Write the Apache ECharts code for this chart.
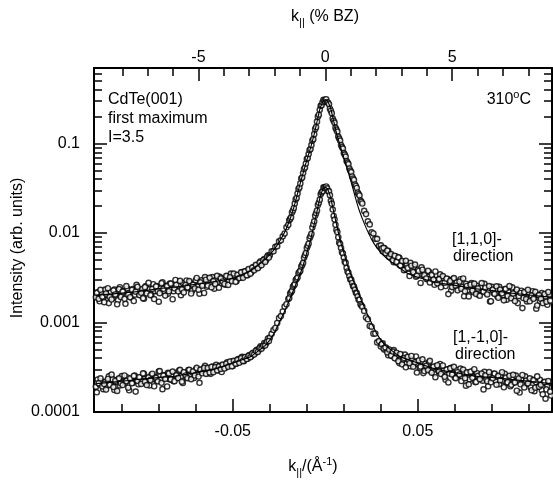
<!DOCTYPE html>
<html>
<head>
<meta charset="utf-8">
<script src="https://cdn.jsdelivr.net/npm/echarts@6/dist/echarts.min.js"></script>
<style>
html, body { margin: 0; padding: 0; background: #fff; }
#chart { width: 553px; height: 489px; }
</style>
</head>
<body>
<div id="chart"></div>
<script>
// measurement grid, k_|| in 1/Angstrom
const kValues = [
  -0.124, -0.123, -0.122, -0.121, -0.120, -0.119, -0.118, -0.117, -0.116, -0.115,
  -0.114, -0.113, -0.112, -0.111, -0.110, -0.109, -0.108, -0.107, -0.106, -0.105,
  -0.104, -0.103, -0.102, -0.101, -0.100, -0.099, -0.098, -0.097, -0.096, -0.095,
  -0.094, -0.093, -0.092, -0.091, -0.090, -0.089, -0.088, -0.087, -0.086, -0.085,
  -0.084, -0.083, -0.082, -0.081, -0.080, -0.079, -0.078, -0.077, -0.076, -0.075,
  -0.074, -0.073, -0.072, -0.071, -0.070, -0.069, -0.068, -0.067, -0.066, -0.065,
  -0.064, -0.063, -0.062, -0.061, -0.060, -0.059, -0.058, -0.057, -0.056, -0.055,
  -0.054, -0.053, -0.052, -0.051, -0.050, -0.049, -0.048, -0.047, -0.046, -0.045,
  -0.044, -0.043, -0.042, -0.041, -0.040, -0.039, -0.038, -0.037, -0.036, -0.035,
  -0.034, -0.033, -0.032, -0.031, -0.030, -0.029, -0.028, -0.027, -0.026, -0.025,
  -0.024, -0.023, -0.022, -0.021,
  -0.0200, -0.0195, -0.0190, -0.0185, -0.0180, -0.0175, -0.0170, -0.0165, -0.0160, -0.0155,
  -0.0150, -0.0145, -0.0140, -0.0135, -0.0130, -0.0125, -0.0120, -0.0115, -0.0110, -0.0105,
  -0.0100, -0.0095, -0.0090, -0.0085, -0.0080, -0.0075, -0.0070, -0.0065, -0.0060, -0.0055,
  -0.0050, -0.0045, -0.0040, -0.0035, -0.0030, -0.0025, -0.0020, -0.0015, -0.0010, -0.0005,
  0,
  0.0005, 0.0010, 0.0015, 0.0020, 0.0025, 0.0030, 0.0035, 0.0040, 0.0045, 0.0050,
  0.0055, 0.0060, 0.0065, 0.0070, 0.0075, 0.0080, 0.0085, 0.0090, 0.0095, 0.0100,
  0.0105, 0.0110, 0.0115, 0.0120, 0.0125, 0.0130, 0.0135, 0.0140, 0.0145, 0.0150,
  0.0155, 0.0160, 0.0165, 0.0170, 0.0175, 0.0180, 0.0185, 0.0190, 0.0195, 0.0200,
  0.021, 0.022, 0.023, 0.024, 0.025, 0.026, 0.027, 0.028, 0.029, 0.030,
  0.031, 0.032, 0.033, 0.034, 0.035, 0.036, 0.037, 0.038, 0.039, 0.040,
  0.041, 0.042, 0.043, 0.044, 0.045, 0.046, 0.047, 0.048, 0.049, 0.050,
  0.051, 0.052, 0.053, 0.054, 0.055, 0.056, 0.057, 0.058, 0.059, 0.060,
  0.061, 0.062, 0.063, 0.064, 0.065, 0.066, 0.067, 0.068, 0.069, 0.070,
  0.071, 0.072, 0.073, 0.074, 0.075, 0.076, 0.077, 0.078, 0.079, 0.080,
  0.081, 0.082, 0.083, 0.084, 0.085, 0.086, 0.087, 0.088, 0.089, 0.090,
  0.091, 0.092, 0.093, 0.094, 0.095, 0.096, 0.097, 0.098, 0.099, 0.100,
  0.101, 0.102, 0.103, 0.104, 0.105, 0.106, 0.107, 0.108, 0.109, 0.110,
  0.111, 0.112, 0.113, 0.114, 0.115, 0.116, 0.117, 0.118, 0.119, 0.120,
  0.121, 0.122
];

// [1,1,0] direction
const upperValues = [
  0.00192, 0.00218, 0.00173, 0.00210, 0.00190, 0.00233, 0.00202, 0.00165, 0.00218, 0.00187,
  0.00233, 0.00210, 0.00178, 0.00248, 0.00202, 0.00224, 0.00162, 0.00239, 0.00213, 0.00192,
  0.00236, 0.00205, 0.00264, 0.00224, 0.00202, 0.00236, 0.00185, 0.00255, 0.00224, 0.00236,
  0.00205, 0.00268, 0.00224, 0.00255, 0.00171, 0.00240, 0.00282, 0.00224, 0.00257, 0.00210,
  0.00273, 0.00242, 0.00224, 0.00299, 0.00239, 0.00259, 0.00202, 0.00276, 0.00251, 0.00295,
  0.00242, 0.00276, 0.00227, 0.00266, 0.00297, 0.00256, 0.00210, 0.00296, 0.00268, 0.00322,
  0.00251, 0.00288, 0.00268, 0.00322, 0.00239, 0.00303, 0.00282, 0.00324, 0.00274, 0.00306,
  0.00264, 0.00328, 0.00299, 0.00352, 0.00297, 0.00334, 0.00289, 0.00336, 0.00317, 0.00367,
  0.00338, 0.00374, 0.00338, 0.00384, 0.00365, 0.00416, 0.00399, 0.00436, 0.00419, 0.00484,
  0.00465, 0.00512, 0.00496, 0.00564, 0.00564, 0.00625, 0.00625, 0.00702, 0.00711, 0.00808,
  0.00829, 0.00919, 0.0099, 0.0116,
  0.01235, 0.0139, 0.0144, 0.0150, 0.0170, 0.0179, 0.0191, 0.0214, 0.0238, 0.0247,
  0.0277, 0.0311, 0.0323, 0.0358, 0.0407, 0.0418, 0.0469, 0.0520, 0.0540, 0.0599,
  0.0672, 0.0689, 0.0764, 0.0846, 0.0868, 0.0962, 0.1080, 0.1122, 0.1276, 0.1451,
  0.1527, 0.1759, 0.2000, 0.2105, 0.2394, 0.2652, 0.2686, 0.2902, 0.3094, 0.2993,
  0.3094,
  0.3134, 0.2902, 0.2865, 0.2756, 0.2456, 0.2332, 0.2188, 0.1900, 0.1804, 0.1714,
  0.1508, 0.1432, 0.1361, 0.1197, 0.1137, 0.1080, 0.0962, 0.0914, 0.0880, 0.0784,
  0.0754, 0.0716, 0.0638, 0.0614, 0.0591, 0.0527, 0.0500, 0.0481, 0.0429, 0.0407,
  0.0392, 0.0349, 0.0336, 0.0319, 0.0284, 0.0273, 0.0263, 0.0231, 0.0223, 0.0214,
  0.0177, 0.0163, 0.0135, 0.0125, 0.0102, 0.0099, 0.00862, 0.00862, 0.00720, 0.00729,
  0.00625, 0.00675, 0.00597, 0.00633, 0.00536, 0.00557, 0.00473, 0.00550, 0.00481, 0.00529,
  0.00431, 0.00477, 0.00389, 0.00442, 0.00399, 0.00465, 0.00389, 0.00419, 0.00325, 0.00389,
  0.00344, 0.00414, 0.00340, 0.00360, 0.00305, 0.00370, 0.00311, 0.00329, 0.00264, 0.00338,
  0.00301, 0.00346, 0.00278, 0.00313, 0.00256, 0.00309, 0.00282, 0.00227, 0.00305, 0.00258,
  0.00282, 0.00239, 0.00305, 0.00251, 0.00197, 0.00271, 0.00230, 0.00251, 0.00276, 0.00218,
  0.00235, 0.00258, 0.00203, 0.00248, 0.00223, 0.00271, 0.00214, 0.00230, 0.00172, 0.00251,
  0.00214, 0.00236, 0.00196, 0.00251, 0.00214, 0.00202, 0.00235, 0.00180, 0.00219, 0.00202,
  0.00247, 0.00190, 0.00219, 0.00165, 0.00201, 0.00227, 0.00188, 0.00213, 0.00172, 0.00216,
  0.00188, 0.00224, 0.00191, 0.00143, 0.00203, 0.00173, 0.00213, 0.00182, 0.00196, 0.00158,
  0.00204, 0.00173
];

// [1,-1,0] direction
const lowerValues = [
  0.000192, 0.000231, 0.000204, 0.000221, 0.000180, 0.000217, 0.000197, 0.000250, 0.000204, 0.000233,
  0.000176, 0.000217, 0.000230, 0.000198, 0.000252, 0.000217, 0.000213, 0.000243, 0.000175, 0.000233,
  0.000212, 0.000255, 0.000224, 0.000204, 0.000245, 0.000221, 0.000267, 0.000213, 0.000236, 0.000198,
  0.000258, 0.000233, 0.000247, 0.000224, 0.000283, 0.000231, 0.000180, 0.000259, 0.000240, 0.000275,
  0.000231, 0.000257, 0.000221, 0.000272, 0.000240, 0.000290, 0.000250, 0.000211, 0.000275, 0.000244,
  0.000295, 0.000261, 0.000278, 0.000240, 0.000298, 0.000264, 0.000212, 0.000298, 0.000286, 0.000328,
  0.000269, 0.000300, 0.000267, 0.000322, 0.000293, 0.000337, 0.000292, 0.000329, 0.000280, 0.000332,
  0.000313, 0.000360, 0.000332, 0.000365, 0.000326, 0.000367, 0.000346, 0.000391, 0.000368, 0.000414,
  0.000370, 0.000407, 0.000394, 0.000434, 0.000419, 0.000459, 0.000455, 0.000497, 0.000491, 0.000541,
  0.000535, 0.000590, 0.000587, 0.000662, 0.000678, 0.000747, 0.000824, 0.000869, 0.000988, 0.00112,
  0.00118, 0.00133, 0.00151, 0.00160,
  0.00183, 0.00188, 0.00211, 0.00218, 0.00226, 0.00251, 0.00260, 0.00268, 0.00298, 0.00308,
  0.00319, 0.00355, 0.00366, 0.00378, 0.00422, 0.00441, 0.00465, 0.00530, 0.00564, 0.00597,
  0.00682, 0.00721, 0.00763, 0.00873, 0.00920, 0.00980, 0.01153, 0.01251, 0.01354, 0.01558,
  0.01665, 0.01782, 0.0206, 0.02177, 0.02363, 0.02721, 0.02850, 0.02939, 0.03240, 0.03230,
  0.03174,
  0.03315, 0.03158, 0.02939, 0.02924, 0.02652, 0.02292, 0.02133, 0.01832, 0.01552, 0.01417,
  0.01238, 0.01083, 0.01027, 0.00898, 0.00784, 0.00754, 0.00681, 0.00611, 0.00591, 0.00532,
  0.00478, 0.00464, 0.00409, 0.00372, 0.00360, 0.00329, 0.00303, 0.00302, 0.00277, 0.00255,
  0.00253, 0.00233, 0.00215, 0.00213, 0.00196, 0.00180, 0.00180, 0.00160, 0.00155, 0.00150,
  0.00135, 0.00114, 0.00109, 0.000915, 0.000898, 0.000751, 0.000754, 0.000600, 0.000620, 0.000539,
  0.000586, 0.000496, 0.000515, 0.000431, 0.000474, 0.000423, 0.000492, 0.000398, 0.000436, 0.000352,
  0.000433, 0.000382, 0.000438, 0.000350, 0.000382, 0.000324, 0.000391, 0.000346, 0.000418, 0.000343,
  0.000313, 0.000367, 0.000272, 0.000346, 0.000307, 0.000360, 0.000289, 0.000315, 0.000268, 0.000325,
  0.000290, 0.000344, 0.000270, 0.000290, 0.000229, 0.000301, 0.000269, 0.000312, 0.000270, 0.000243,
  0.000295, 0.000257, 0.000305, 0.000246, 0.000270, 0.000197, 0.000272, 0.000232, 0.000283, 0.000247,
  0.000216, 0.000271, 0.000237, 0.000256, 0.000224, 0.000281, 0.000233, 0.000194, 0.000257, 0.000236,
  0.000268, 0.000223, 0.000246, 0.000205, 0.000257, 0.000224, 0.000268, 0.000212, 0.000233, 0.000194,
  0.000244, 0.000213, 0.000255, 0.000223, 0.000165, 0.000234, 0.000205, 0.000250, 0.000207, 0.000221,
  0.000188, 0.000229, 0.000171, 0.000214, 0.000192, 0.000229, 0.000175, 0.000214, 0.000141, 0.000195,
  0.000216, 0.000153
];

// interleaved points of the second pass in the wings
const kExtra = [
  -0.1235, -0.1225, -0.1215, -0.1205, -0.1195, -0.1185, -0.1175, -0.1165, -0.1155, -0.1145,
  -0.1135, -0.1125, -0.1115, -0.1105, -0.1095, -0.1085, -0.1075, -0.1065, -0.1055, -0.1045,
  -0.1035, -0.1025, -0.1015, -0.1005, -0.0995, -0.0985, -0.0975, -0.0965, -0.0955, -0.0945,
  -0.0935, -0.0925, -0.0915, -0.0905, -0.0895, -0.0885, -0.0875, -0.0865, -0.0855, -0.0845,
  -0.0835, -0.0825, -0.0815, -0.0805, -0.0795, -0.0785, -0.0775, -0.0765, -0.0755, -0.0745,
  -0.0735, -0.0725, -0.0715, -0.0705, -0.0695, -0.0685, -0.0675, -0.0665, -0.0655, -0.0645,
  -0.0635, -0.0625, -0.0615, -0.0605, -0.0595, -0.0585, -0.0575, -0.0565, -0.0555, -0.0545,
  -0.0535, -0.0525, -0.0515, -0.0505, -0.0495, -0.0485, -0.0475, -0.0465, -0.0455, -0.0445,
  -0.0435, -0.0425, -0.0415, -0.0405, -0.0395, -0.0385, -0.0375, -0.0365, -0.0355, -0.0345,
  -0.0335, -0.0325, -0.0315, -0.0305,
  0.0305, 0.0315, 0.0325, 0.0335, 0.0345, 0.0355, 0.0365, 0.0375, 0.0385, 0.0395,
  0.0405, 0.0415, 0.0425, 0.0435, 0.0445, 0.0455, 0.0465, 0.0475, 0.0485, 0.0495,
  0.0505, 0.0515, 0.0525, 0.0535, 0.0545, 0.0555, 0.0565, 0.0575, 0.0585, 0.0595,
  0.0605, 0.0615, 0.0625, 0.0635, 0.0645, 0.0655, 0.0665, 0.0675, 0.0685, 0.0695,
  0.0705, 0.0715, 0.0725, 0.0735, 0.0745, 0.0755, 0.0765, 0.0775, 0.0785, 0.0795,
  0.0805, 0.0815, 0.0825, 0.0835, 0.0845, 0.0855, 0.0865, 0.0875, 0.0885, 0.0895,
  0.0905, 0.0915, 0.0925, 0.0935, 0.0945, 0.0955, 0.0965, 0.0975, 0.0985, 0.0995,
  0.1005, 0.1015, 0.1025, 0.1035, 0.1045, 0.1055, 0.1065, 0.1075, 0.1085, 0.1095,
  0.1105, 0.1115, 0.1125, 0.1135, 0.1145, 0.1155, 0.1165, 0.1175, 0.1185, 0.1195,
  0.1205, 0.1215
];
const upperExtra = [
  0.00215, 0.00184, 0.00232, 0.00195, 0.00169, 0.00211, 0.00242, 0.00193, 0.00181, 0.00228,
  0.00206, 0.00160, 0.00236, 0.00193, 0.00222, 0.00184, 0.00255, 0.00206, 0.00192, 0.00232,
  0.00174, 0.00221, 0.00251, 0.00203, 0.00215, 0.00187, 0.00248, 0.00212, 0.00278, 0.00202,
  0.00238, 0.00183, 0.00253, 0.00224, 0.00213, 0.00275, 0.00238, 0.00200, 0.00255, 0.00224,
  0.00272, 0.00182, 0.00241, 0.00264, 0.00223, 0.00292, 0.00235, 0.00217, 0.00264, 0.00248,
  0.00291, 0.00211, 0.00263, 0.00241, 0.00315, 0.00233, 0.00281, 0.00258, 0.00214, 0.00301,
  0.00259, 0.00316, 0.00248, 0.00290, 0.00270, 0.00332, 0.00245, 0.00312, 0.00288, 0.00270,
  0.00333, 0.00263, 0.00321, 0.00290, 0.00353, 0.00285, 0.00341, 0.00314, 0.00364, 0.00316,
  0.00373, 0.00338, 0.00395, 0.00352, 0.00410, 0.00383, 0.00442, 0.00405, 0.00468, 0.00438,
  0.00497, 0.00476, 0.00541, 0.00532,
  0.00672, 0.00684, 0.00596, 0.00635, 0.00541, 0.00581, 0.00497, 0.00558, 0.00476, 0.00535,
  0.00434, 0.00488, 0.00385, 0.00489, 0.00408, 0.00331, 0.00432, 0.00366, 0.00445, 0.00334,
  0.00377, 0.00277, 0.00389, 0.00338, 0.00311, 0.00379, 0.00281, 0.00341, 0.00301, 0.00372,
  0.00274, 0.00306, 0.00248, 0.00331, 0.00279, 0.00309, 0.00208, 0.00292, 0.00249, 0.00314,
  0.00258, 0.00229, 0.00287, 0.00239, 0.00311, 0.00224, 0.00256, 0.00196, 0.00265, 0.00228,
  0.00272, 0.00209, 0.00240, 0.00199, 0.00276, 0.00222, 0.00245, 0.00206, 0.00255, 0.00173,
  0.00233, 0.00209, 0.00254, 0.00189, 0.00233, 0.00212, 0.00177, 0.00238, 0.00198, 0.00255,
  0.00187, 0.00211, 0.00174, 0.00233, 0.00197, 0.00214, 0.00145, 0.00219, 0.00183, 0.00232,
  0.00173, 0.00201, 0.00184, 0.00220, 0.00155, 0.00203, 0.00184, 0.00165, 0.00208, 0.00171,
  0.00219, 0.00176
];
const lowerExtra = [
  0.000166, 0.000210, 0.000238, 0.000193, 0.000205, 0.000178, 0.000234, 0.000201, 0.000262, 0.000190,
  0.000224, 0.000172, 0.000238, 0.000210, 0.000200, 0.000256, 0.000222, 0.000187, 0.000237, 0.000209,
  0.000253, 0.000169, 0.000223, 0.000245, 0.000206, 0.000270, 0.000218, 0.000200, 0.000244, 0.000228,
  0.000268, 0.000194, 0.000241, 0.000220, 0.000287, 0.000212, 0.000255, 0.000234, 0.000193, 0.000270,
  0.000232, 0.000283, 0.000221, 0.000257, 0.000240, 0.000296, 0.000218, 0.000278, 0.000256, 0.000239,
  0.000296, 0.000233, 0.000284, 0.000256, 0.000311, 0.000249, 0.000297, 0.000271, 0.000311, 0.000267,
  0.000311, 0.000277, 0.000319, 0.000279, 0.000318, 0.000292, 0.000324, 0.000303, 0.000339, 0.000306,
  0.000348, 0.000320, 0.000367, 0.000325, 0.000373, 0.000347, 0.000383, 0.000355, 0.000400, 0.000372,
  0.000411, 0.000391, 0.000424, 0.000410, 0.000451, 0.000438, 0.000482, 0.000469, 0.000518, 0.000510,
  0.000551, 0.000554, 0.000610, 0.000622,
  0.000572, 0.000514, 0.000527, 0.000463, 0.000499, 0.000428, 0.000474, 0.000399, 0.000460, 0.000370,
  0.000445, 0.000341, 0.000401, 0.000316, 0.000413, 0.000351, 0.000423, 0.000321, 0.000361, 0.000276,
  0.000377, 0.000322, 0.000388, 0.000287, 0.000328, 0.000294, 0.000373, 0.000275, 0.000322, 0.000245,
  0.000333, 0.000286, 0.000266, 0.000331, 0.000247, 0.000297, 0.000214, 0.000308, 0.000263, 0.000320,
  0.000239, 0.000278, 0.000263, 0.000222, 0.000298, 0.000239, 0.000277, 0.000204, 0.000282, 0.000241,
  0.000301, 0.000217, 0.000254, 0.000233, 0.000269, 0.000179, 0.000257, 0.000221, 0.000279, 0.000215,
  0.000238, 0.000269, 0.000202, 0.000254, 0.000227, 0.000278, 0.000189, 0.000242, 0.000215, 0.000254,
  0.000201, 0.000260, 0.000214, 0.000173, 0.000237, 0.000204, 0.000259, 0.000188, 0.000224, 0.000209,
  0.000238, 0.000175, 0.000227, 0.000187, 0.000250, 0.000192, 0.000202, 0.000158, 0.000217, 0.000179,
  0.000222, 0.000169
];

// fitted profiles (solid lines)
const fitK = [
  -0.124, -0.11, -0.10, -0.09, -0.08, -0.07, -0.06, -0.05, -0.045, -0.04,
  -0.036, -0.032, -0.028, -0.025, -0.022, -0.020, -0.018, -0.016, -0.014, -0.012,
  -0.010, -0.008, -0.006, -0.004, -0.003, -0.002, -0.001, 0,
  0.001, 0.002, 0.003, 0.004, 0.006, 0.008, 0.010, 0.012, 0.014, 0.016,
  0.018, 0.020, 0.022, 0.025, 0.028, 0.032, 0.036, 0.04, 0.045, 0.05,
  0.06, 0.07, 0.08, 0.09, 0.10, 0.11, 0.1225
];
const fitUpper = [
  0.00202, 0.00213, 0.00224, 0.00239, 0.00251, 0.00268, 0.00286, 0.00313, 0.00339, 0.00384,
  0.00442, 0.00522, 0.00641, 0.00788, 0.0102, 0.0127, 0.0166, 0.0231, 0.0332, 0.0469,
  0.0655, 0.0891, 0.1276, 0.1949, 0.2394, 0.2756, 0.3015, 0.3094,
  0.3015, 0.2770, 0.2420, 0.1980, 0.1320, 0.0950, 0.0690, 0.0510, 0.0370, 0.0260,
  0.0188, 0.0145, 0.0115, 0.0085, 0.0068, 0.0055, 0.0047, 0.0041, 0.0035, 0.0032,
  0.0028, 0.0026, 0.00240, 0.00228, 0.00214, 0.00203, 0.00192
];
const fitLower = [
  0.000207, 0.000221, 0.000232, 0.000243, 0.000253, 0.000276, 0.000301, 0.000352, 0.000384, 0.000421,
  0.000486, 0.000566, 0.000737, 0.00099, 0.00134, 0.00167, 0.00210, 0.00265, 0.00333, 0.00434,
  0.00605, 0.00836, 0.01263, 0.01949, 0.02425, 0.0285, 0.03158, 0.0323,
  0.03158, 0.0285, 0.02425, 0.01949, 0.01263, 0.00836, 0.00605, 0.00434, 0.00333, 0.00265,
  0.00210, 0.00167, 0.00134, 0.00099, 0.000737, 0.000566, 0.000486, 0.000421, 0.000384, 0.000352,
  0.000301, 0.000276, 0.000253, 0.000243, 0.000232, 0.000221, 0.000207
];

// axis ticks
const kLabels = [-0.05, 0.05];
const kMinorTicks = [-0.11, -0.09, -0.07, -0.03, -0.01, 0.01, 0.03, 0.07, 0.09, 0.11];
const bzLabels = [-5, 0, 5];
const bzMinorTicks = [-8, -7, -6, -4, -3, -2, -1, 1, 2, 3, 4, 6, 7, 8];
const decades = [0.0001, 0.001, 0.01, 0.1];
const minorMultipliers = [2, 3, 4, 5, 6, 7, 8, 9];

const K_MIN = -0.125, K_MAX = 0.1225;
const Y_MIN = 0.0001, Y_MAX = 0.7;
const BZ_PER_PERCENT = 0.01371; // 1 % of the BZ in 1/Angstrom

const FONT = '"Liberation Sans", Arial, Helvetica, sans-serif';
const logMajor = decades.map(v => Math.log10(v));
const logMinor = [];
decades.forEach(d => minorMultipliers.forEach(m => {
  if (d * m <= Y_MAX) logMinor.push(Math.log10(d * m));
}));

const chart = echarts.init(document.getElementById('chart'), null, { renderer: 'canvas' });

const frameLine = { show: true, onZero: false, lineStyle: { color: '#000', width: 2 } };
const noLine = { show: false, onZero: false };
const tickStyle = { color: '#000', width: 1.5 };
const labelStyle = { color: '#000', fontSize: 16, fontFamily: FONT };
const MAJOR = 13, MINOR = 8;

function tickAxis(base, values, len) {
  return Object.assign({
    type: 'value',
    axisLine: noLine,
    splitLine: { show: false },
    axisLabel: { show: false },
    axisTick: { show: true, inside: true, length: len, lineStyle: tickStyle, customValues: values }
  }, base);
}

const logMin = Math.log10(Y_MIN), logMax = Math.log10(Y_MAX);
const bzMin = K_MIN / BZ_PER_PERCENT, bzMax = K_MAX / BZ_PER_PERCENT;

function pairs(ks, vs) {
  return ks.map((k, i) => [k, vs[i]]);
}

const markerStyle = { color: '#fff', borderColor: '#000', borderWidth: 1.4 };

const option = {
  animation: false,
  backgroundColor: '#fff',
  grid: { left: 94, right: 1, top: 68, bottom: 77 },
  xAxis: [
    {
      type: 'value', position: 'bottom', min: K_MIN, max: K_MAX,
      axisLine: frameLine,
      splitLine: { show: false },
      axisTick: { show: true, inside: true, length: MAJOR, lineStyle: tickStyle, customValues: kLabels },
      axisLabel: { show: true, margin: 12, customValues: kLabels, formatter: v => v.toFixed(2), ...labelStyle }
    },
    tickAxis({ position: 'bottom', min: K_MIN, max: K_MAX }, kMinorTicks, MINOR),
    {
      type: 'value', position: 'top', min: bzMin, max: bzMax,
      axisLine: frameLine,
      splitLine: { show: false },
      axisTick: { show: true, inside: true, length: MAJOR, lineStyle: tickStyle, customValues: bzLabels },
      axisLabel: { show: true, margin: 2, customValues: bzLabels, formatter: v => String(Math.round(v)), ...labelStyle }
    },
    tickAxis({ position: 'top', min: bzMin, max: bzMax }, bzMinorTicks, MINOR)
  ],
  yAxis: [
    {
      type: 'log', logBase: 10, position: 'left', min: Y_MIN, max: Y_MAX,
      axisLine: frameLine,
      axisTick: { show: false },
      axisLabel: { show: false },
      splitLine: { show: false }
    },
    {
      type: 'value', position: 'left', min: logMin, max: logMax,
      axisLine: noLine,
      splitLine: { show: false },
      axisTick: { show: true, inside: true, length: MAJOR, lineStyle: tickStyle, customValues: logMajor },
      axisLabel: {
        show: true, margin: 14, customValues: logMajor,
        formatter: v => String(+Math.pow(10, v).toPrecision(1)), ...labelStyle
      }
    },
    tickAxis({ position: 'left', min: logMin, max: logMax }, logMinor, MINOR),
    {
      type: 'value', position: 'right', min: logMin, max: logMax,
      axisLine: frameLine,
      splitLine: { show: false },
      axisLabel: { show: false },
      axisTick: { show: true, inside: true, length: MAJOR, lineStyle: tickStyle, customValues: logMajor }
    },
    tickAxis({ position: 'right', min: logMin, max: logMax }, logMinor, MINOR)
  ],
  series: [
    {
      type: 'scatter', xAxisIndex: 0, yAxisIndex: 0, silent: true,
      symbol: 'circle', symbolSize: 5.2, itemStyle: markerStyle,
      data: pairs(kValues, upperValues).concat(pairs(kExtra, upperExtra))
    },
    {
      type: 'scatter', xAxisIndex: 0, yAxisIndex: 0, silent: true,
      symbol: 'circle', symbolSize: 5.2, itemStyle: markerStyle,
      data: pairs(kValues, lowerValues).concat(pairs(kExtra, lowerExtra))
    },
    {
      type: 'line', xAxisIndex: 0, yAxisIndex: 0, silent: true, showSymbol: false, z: 5,
      smooth: 0.25, lineStyle: { color: '#000', width: 1.1 },
      data: pairs(fitK, fitUpper)
    },
    {
      type: 'line', xAxisIndex: 0, yAxisIndex: 0, silent: true, showSymbol: false, z: 5,
      smooth: 0.25, lineStyle: { color: '#000', width: 1.1 },
      data: pairs(fitK, fitLower)
    }
  ],
  graphic: [
    textEl(325, 17, 'k{s|||} (% BZ)', 'center'),
    textEl(313, 467, 'k{s|||}/(Å{p|-1})', 'center'),
    Object.assign(textEl(18, 248, 'Intensity (arb. units)', 'center'), { rotation: Math.PI / 2 }),
    textEl(108, 100, 'CdTe(001)', 'left'),
    textEl(108, 119, 'first maximum', 'left'),
    textEl(108, 138, 'I=3.5', 'left'),
    textEl(531, 100, '310{p|o}C', 'right'),
    textEl(452, 240, '[1,1,0]-', 'left'),
    textEl(453, 257, 'direction', 'left'),
    textEl(453, 338, '[1,-1,0]-', 'left'),
    textEl(455, 355, 'direction', 'left')
  ]
};

function textEl(x, y, text, align) {
  return {
    type: 'text', x: x, y: y, silent: true, z: 10,
    style: {
      text: text, fill: '#000', fontSize: 16, fontFamily: FONT,
      align: align, verticalAlign: 'middle',
      rich: {
        s: { fontSize: 11, fontFamily: FONT, fill: '#000', padding: [11, 0, 0, 0] },
        p: { fontSize: 11, fontFamily: FONT, fill: '#000', padding: [0, 0, 10, 0] }
      }
    }
  };
}

chart.setOption(option);
</script>
</body>
</html>
